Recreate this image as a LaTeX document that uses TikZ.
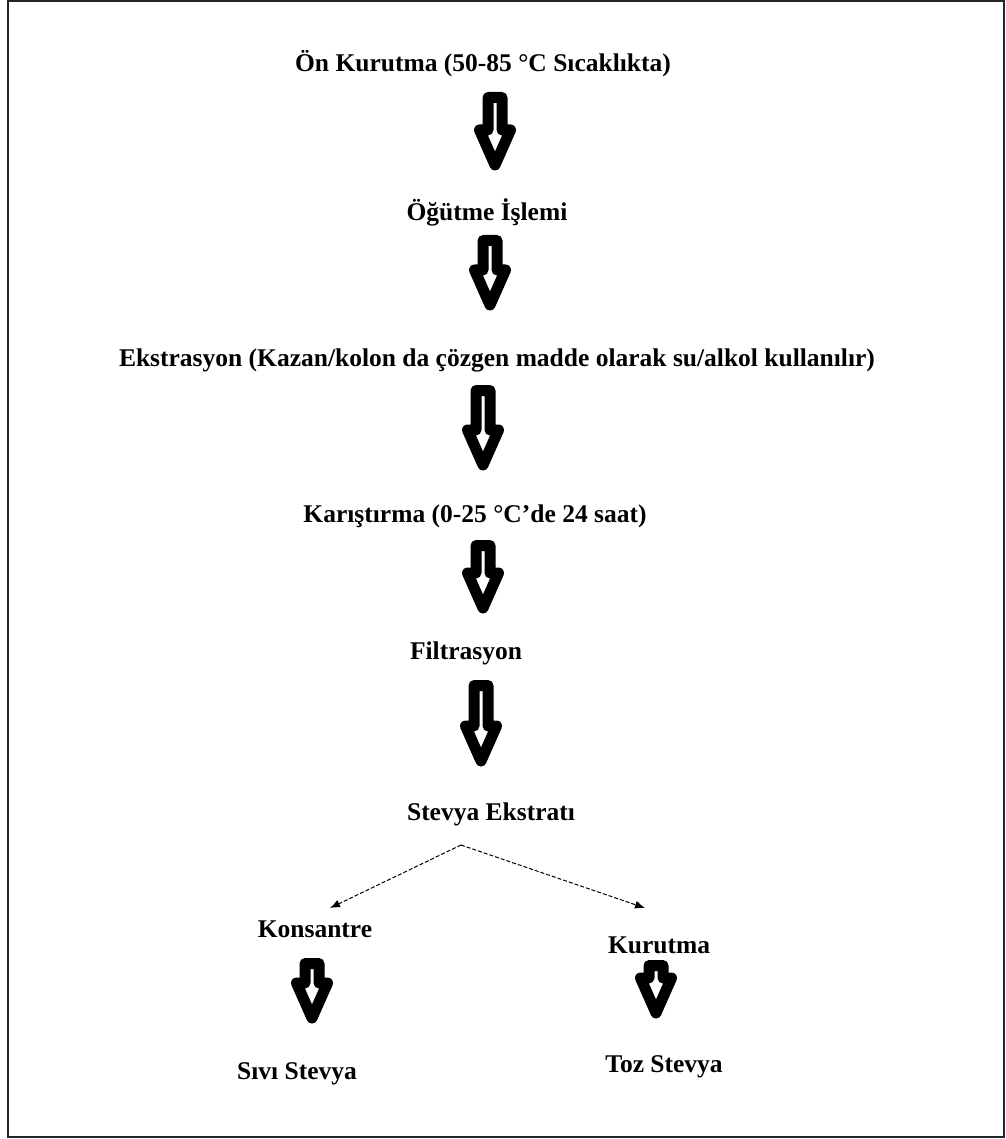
\documentclass[tikz,border=0pt]{standalone}
\usepackage{fontspec}
\setmainfont{Liberation Serif}
\usetikzlibrary{arrows.meta}
\newcommand{\blockarrow}[3]{ \draw[line width=11pt, line join=round, fill=white] (#1-7,#2+5.5) -- (#1+7,#2+5.5) -- (#1+7,#3-42) -- (#1+15.5,#3-42) -- (#1,#3-7) -- (#1-15.5,#3-42) -- (#1-7,#3-42) -- cycle;}
\tikzset{
  asama/.style={font=\bfseries\fontsize{25.5}{30}\selectfont, anchor=base, inner sep=0pt},
  dalline/.style={dashed, dash pattern=on 4pt off 2pt, line width=1pt, -{Latex[length=10pt,width=8pt]}}
}
\begin{document}
\begin{tikzpicture}[x=1pt,y=-1pt]
        \useasboundingbox (0,0) rectangle (1005,1139);
        % frame
        \draw[line width=1.5pt, black!85] (8,1) rectangle (1004,1137);
        % main steps
        \node[asama] (onkurutma) at (483,72) {Ön Kurutma (50-85 °C Sıcaklıkta)};
        \node[asama] (ogutme) at (487,221) {Öğütme İşlemi};
        \node[asama] (ekstrasyon) at (497,366) {Ekstrasyon (Kazan/kolon da çözgen madde olarak su/alkol kullanılır)};
        \node[asama] (karistirma) at (475,522) {Karıştırma (0-25 °C’de 24 saat)};
        \node[asama] (filtrasyon) at (466,659) {Filtrasyon};
        \node[asama] (ekstrat) at (491,820) {Stevya Ekstratı};
        % block arrows
        \blockarrow{495}{92}{172}
        \blockarrow{490}{235}{312}
        \blockarrow{483}{385}{472}
        \blockarrow{483}{540}{615}
        \blockarrow{481}{680}{768}
        % split
        \coordinate (split) at (461,845);
        \coordinate (kon-in) at (330,908);
        \coordinate (kur-in) at (645,908);
        \draw[dalline] (split) -- (kon-in);
        \draw[dalline] (split) -- (kur-in);
        % branches
        \node[asama] (konsantre) at (315,937) {Konsantre};
        \node[asama] (kurutma) at (659,953) {Kurutma};
        \blockarrow{312}{958}{1025}
        \blockarrow{656}{960}{1020}
        \node[asama] (sivi) at (297,1079) {Sıvı Stevya};
        \node[asama] (toz) at (664,1072) {Toz Stevya};
    \end{tikzpicture}
\end{document}
